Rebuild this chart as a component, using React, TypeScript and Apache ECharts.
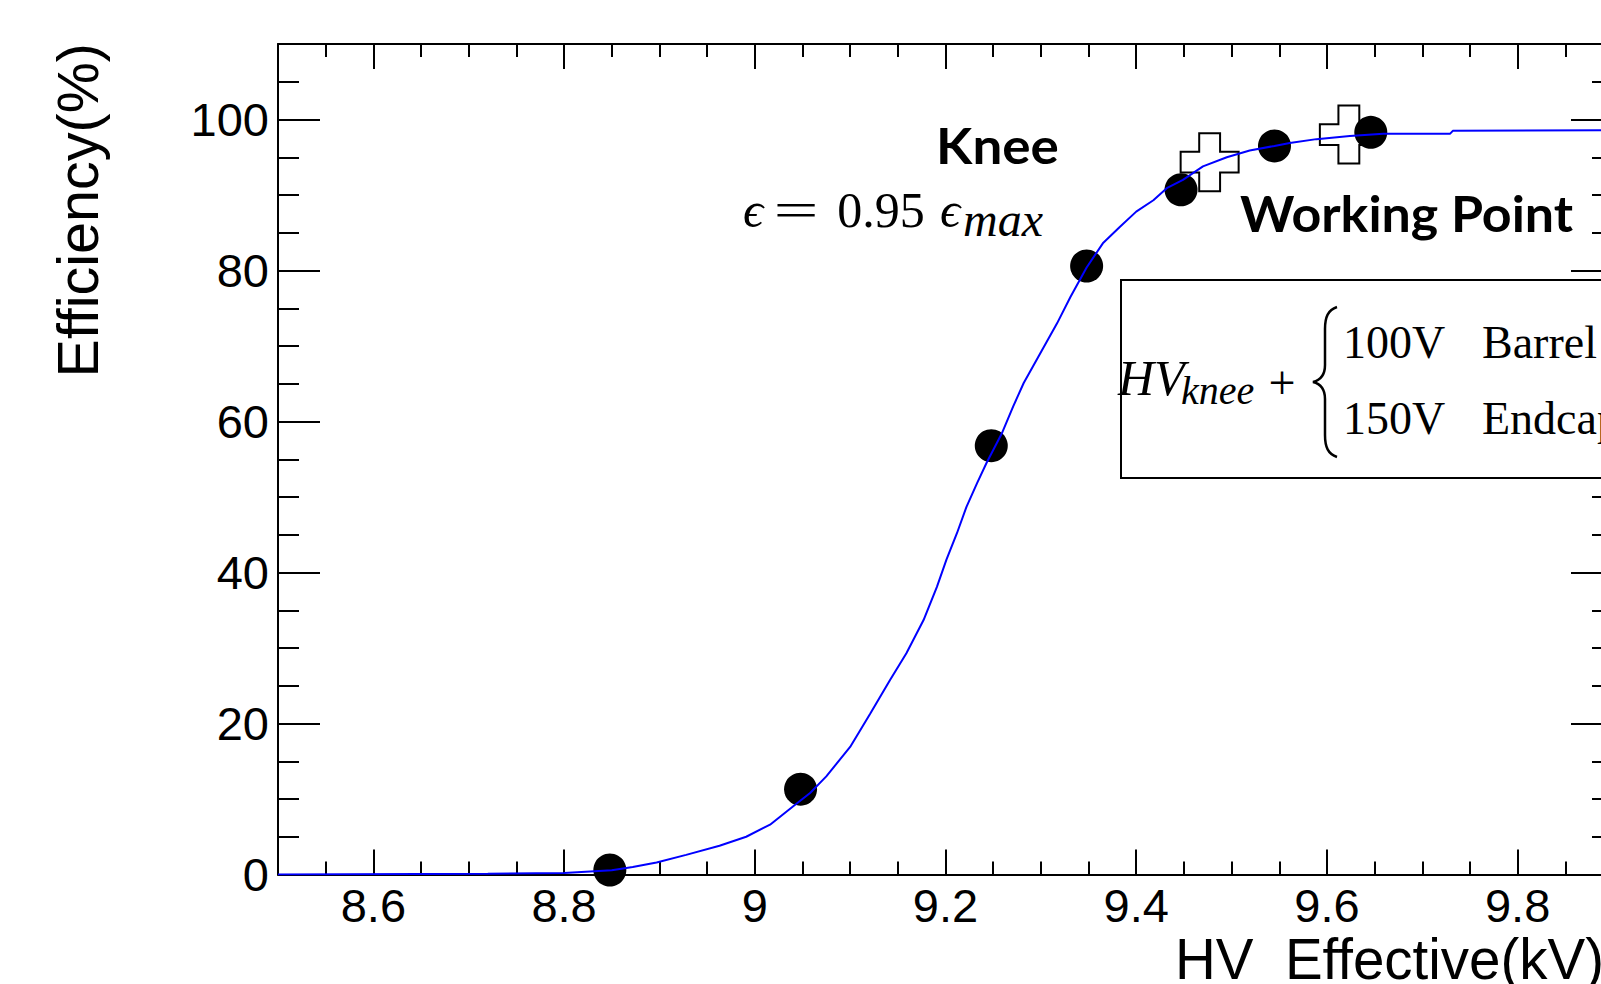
import React, { useEffect, useRef } from "react";
import * as echarts from "echarts";

// Measured efficiency points (HV effective in kV, efficiency in %)
const pointsX = [8.848, 9.048, 9.248, 9.348, 9.447, 9.545, 9.646];
const pointsY = [0.6, 11.3, 56.8, 80.6, 90.7, 96.5, 98.3];

// Knee / working point markers (open crosses)
const kneeX = [9.477, 9.623];
const kneeY = [94.35, 98.0];

// Sigmoid fit curve
const fitX = [
  8.5, 8.72, 8.8, 8.85, 8.872, 8.897, 8.928, 8.963, 8.991, 9.016, 9.04, 9.058,
  9.075, 9.1, 9.121, 9.142, 9.159, 9.177, 9.191, 9.201, 9.212, 9.222, 9.233,
  9.243, 9.259, 9.271, 9.282, 9.317, 9.331, 9.348, 9.365, 9.383, 9.4, 9.418,
  9.432, 9.449, 9.47, 9.495, 9.519, 9.545, 9.561, 9.589, 9.624, 9.659, 9.729,
  9.732, 9.9,
];
const fitY = [
  0.0, 0.1, 0.2, 0.55, 1.0, 1.6, 2.6, 3.8, 5.0, 6.6, 9.0, 10.8, 13.0, 16.9,
  21.3, 25.8, 29.3, 33.7, 38.1, 41.7, 45.2, 48.7, 51.8, 54.5, 58.4, 62.0, 65.1,
  73.0, 76.5, 80.4, 83.6, 85.8, 87.8, 89.3, 90.9, 92.0, 93.8, 95.0, 95.9, 96.5,
  96.9, 97.4, 97.8, 98.1, 98.1, 98.5, 98.6,
];

// Axis settings
const xRange = [8.5, 9.9];
const yRange = [0, 110];
const yStep = 20;
const xTitle = "HV\u00a0\u00a0Effective(kV)";
const yTitle = "Efficiency(%)";

const SANS = "'Liberation Sans', Arial, Helvetica, sans-serif";
const SERIF = "'Liberation Serif', 'DejaVu Serif', serif";
const LABEL_SANS = "Lato, 'DejaVu Sans', sans-serif";

const PLUS =
  "path://M32,0 L68,0 L68,32 L100,32 L100,68 L68,68 L68,100 L32,100 L32,68 L0,68 L0,32 L32,32 Z";

const BRACE_D =
  "M24 0 C15 3 12 10 12 22 L12 58 C12 68 8 73 0 75 C8 77 12 82 12 92 L12 128 C12 140 15 147 24 150";

let braceRegistered = false;
function registerBrace() {
  if (braceRegistered) return;
  echarts.graphic.registerShape("brace", echarts.graphic.extendPath(BRACE_D, {}));
  braceRegistered = true;
}

function xAxisCfg(position: "bottom" | "top", showLabel: boolean) {
  return {
    type: "value",
    position,
    min: xRange[0],
    max: xRange[1],
    splitNumber: 7,
    axisLine: { show: true, onZero: false, lineStyle: { color: "#000", width: 2 } },
    axisTick: { show: true, inside: true, length: 25, lineStyle: { color: "#000", width: 2 } },
    minorTick: { show: true, splitNumber: 4, length: 13, lineStyle: { color: "#000", width: 2 } },
    axisLabel: {
      show: showLabel,
      fontSize: 47,
      fontFamily: SANS,
      color: "#000",
      margin: 7,
      showMinLabel: false,
      showMaxLabel: false,
    },
    splitLine: { show: false },
    minorSplitLine: { show: false },
  };
}

function yAxisCfg(position: "left" | "right", showLabel: boolean) {
  return {
    type: "value",
    position,
    min: yRange[0],
    max: yRange[1],
    interval: yStep,
    axisLine: { show: true, onZero: false, lineStyle: { color: "#000", width: 2 } },
    axisTick: { show: true, inside: true, length: 42, lineStyle: { color: "#000", width: 2 } },
    minorTick: { show: true, splitNumber: 4, length: 21, lineStyle: { color: "#000", width: 2 } },
    axisLabel: {
      show: showLabel,
      fontSize: 47,
      fontFamily: SANS,
      color: "#000",
      margin: 9,
      formatter: (v: number) => (v > 100 ? "" : String(v)),
      showMaxLabel: false,
    },
    splitLine: { show: false },
    minorSplitLine: { show: false },
  };
}

function txt(x: number, y: number, text: string, font: string, align = "left", extra: any = {}) {
  return {
    type: "text",
    x,
    y,
    z: 10,
    ...extra,
    style: {
      text,
      font,
      fill: "#000",
      textAlign: align,
      textVerticalAlign: "middle",
    },
  };
}

export default function App() {
  const ref = useRef<HTMLDivElement>(null);

  useEffect(() => {
    if (!ref.current) return;
    registerBrace();
    const chart = echarts.init(ref.current, null, { renderer: "svg" });

    const option: any = {
      animation: false,
      backgroundColor: "#fff",
      grid: {
        left: 278,
        top: 44,
        right: -12,
        bottom: 109.5,
        containLabel: false,
        outerBoundsMode: "none",
      },
      xAxis: [xAxisCfg("bottom", true), xAxisCfg("top", false)],
      yAxis: [yAxisCfg("left", true), yAxisCfg("right", false)],
      series: [
        {
          type: "scatter",
          name: "knee",
          xAxisIndex: 0,
          yAxisIndex: 0,
          symbol: PLUS,
          symbolSize: 58,
          itemStyle: { color: "rgba(0,0,0,0)", borderColor: "#000", borderWidth: 2, opacity: 1 },
          data: kneeX.map((x, i) => [x, kneeY[i]]),
          z: 2,
          silent: true,
        },
        {
          type: "scatter",
          name: "data",
          xAxisIndex: 0,
          yAxisIndex: 0,
          symbol: "circle",
          symbolSize: 33,
          itemStyle: { color: "#000", opacity: 1 },
          data: pointsX.map((x, i) => [x, pointsY[i]]),
          z: 3,
          silent: true,
        },
        {
          type: "line",
          name: "fit",
          xAxisIndex: 0,
          yAxisIndex: 0,
          showSymbol: false,
          symbol: "none",
          lineStyle: { color: "#0000ff", width: 2 },
          data: fitX.map((x, i) => [x, fitY[i]]),
          z: 4,
          silent: true,
        },
      ],
      graphic: [
        {
          type: "rect",
          z: 5,
          shape: { x: 1121, y: 280, width: 600, height: 198 },
          style: { fill: "#fff", stroke: "#000", lineWidth: 2 },
        },
        // axis titles
        txt(1175, 959, xTitle, `56.5px ${SANS}`, "left"),
        txt(78, 43, yTitle, `57.5px ${SANS}`, "right", { rotation: Math.PI / 2 }),
        // Knee annotation
        txt(997.5, 144.5, "Knee", `bold 50px ${LABEL_SANS}`, "center", { scaleX: 1.06 }),
        txt(753, 210, "ϵ", `italic 50px ${SERIF}`, "center"),
        txt(796, 210, "=", `50px ${SERIF}`, "center", { scaleX: 1.6 }),
        txt(881, 210, "0.95", `50px ${SERIF}`, "center"),
        txt(950, 210, "ϵ", `italic 50px ${SERIF}`, "center"),
        txt(1003, 219, "max", `italic 48px ${SERIF}`, "center"),
        // Working point annotation
        txt(1240, 213, "Working Point", `bold 49px ${LABEL_SANS}`, "left", { scaleX: 1.06 }),
        // box formula
        txt(1118, 378, "HV", `italic 50px ${SERIF}`, "left"),
        txt(1181, 390, "knee", `italic 40px ${SERIF}`, "left"),
        txt(1282, 382, "+", `48px ${SERIF}`, "center"),
        {
          type: "brace",
          x: 1313,
          y: 307,
          z: 10,
          style: { fill: "none", stroke: "#000", lineWidth: 2.5 },
        },
        txt(1343, 342, "100V", `46px ${SERIF}`, "left"),
        txt(1482, 342, "Barrel", `46px ${SERIF}`, "left"),
        txt(1343, 418, "150V", `46px ${SERIF}`, "left"),
        txt(1482, 418, "Endcap", `46px ${SERIF}`, "left"),
      ],
    };

    chart.setOption(option);
    return () => {
      chart.dispose();
    };
  }, []);

  return (
    <div
      ref={ref}
      style={{ position: "absolute", left: 0, top: 0, width: 1601, height: 984, background: "#fff" }}
    />
  );
}
